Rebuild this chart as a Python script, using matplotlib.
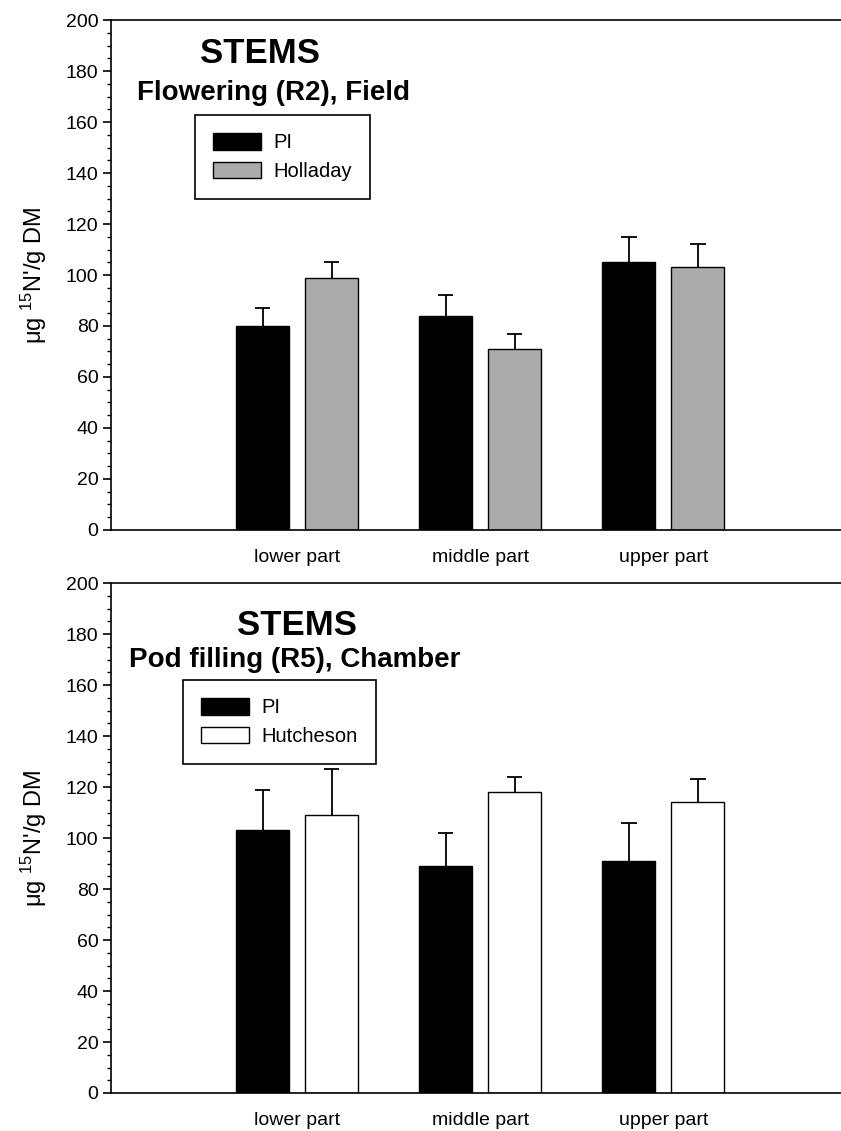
import matplotlib
matplotlib.use("Agg")
import matplotlib.pyplot as plt
import numpy as np
from matplotlib.ticker import MultipleLocator

plt.rcParams['font.family'] = ['Liberation Sans', 'DejaVu Sans']
plt.rcParams['mathtext.fontset'] = 'custom'
plt.rcParams['mathtext.rm'] = 'Liberation Sans'
plt.rcParams['mathtext.it'] = 'Liberation Sans:italic'

categories = ["lower part", "middle part", "upper part"]

# Top panel: Flowering (R2), Field
top_pi = [80, 84, 105]
top_pi_err = [7, 8, 10]
top_hol = [99, 71, 103]
top_hol_err = [6, 6, 9]

# Bottom panel: Pod filling (R5), Chamber
bot_pi = [103, 89, 91]
bot_pi_err = [16, 13, 15]
bot_hut = [109, 118, 114]
bot_hut_err = [18, 6, 9]

yticks = [0, 20, 40, 60, 80, 100, 120, 140, 160, 180, 200]

fig = plt.figure(figsize=(8.41, 11.31), dpi=100)

def err_up(ax, xs, vals, errs, capw=0.042):
    vals = np.asarray(vals, float)
    tops = vals + np.asarray(errs, float)
    ax.vlines(xs, vals, tops, colors='black', linewidth=1.3, zorder=1)
    ax.hlines(tops, xs - capw, xs + capw, colors='black', linewidth=1.3, zorder=1)

def panel(rect, pi, pi_err, other, other_err, other_name, other_color, subtitle,
          sub_x, sub_y, stems_x, stems_y, leg_anchor):
    ax = fig.add_axes(rect)
    x = np.arange(len(categories))
    off = 0.1885
    w = 0.29
    ax.bar(x - off, pi, w, color='black', edgecolor='black', linewidth=1, label='PI', zorder=2)
    ax.bar(x + off, other, w, color=other_color, edgecolor='black', linewidth=1, label=other_name, zorder=2)
    err_up(ax, x - off, pi, pi_err)
    err_up(ax, x + off, other, other_err)
    ax.set_xlim(-1.016, 2.97)
    ax.set_ylim(0, 200)
    ax.set_yticks(yticks)
    ax.set_yticklabels([str(t) for t in yticks], fontsize=14)
    ax.yaxis.set_minor_locator(MultipleLocator(5))
    ax.tick_params(axis='y', which='major', direction='out', length=6, width=1.2, pad=3)
    ax.tick_params(axis='y', which='minor', direction='out', length=3, width=1)
    ax.set_xticks(x)
    ax.set_xticklabels(categories, fontsize=14)
    ax.tick_params(axis='x', length=0, pad=14)
    ax.spines['right'].set_visible(False)
    for s in ['left', 'top', 'bottom']:
        ax.spines[s].set_linewidth(1.2)
    ax.set_ylabel("μg $^{15}$N'/g DM", fontsize=17, labelpad=12)
    ax.text(stems_x, stems_y, "STEMS", transform=ax.transAxes, ha='center', va='baseline',
            fontsize=25, fontweight='bold')
    ax.text(sub_x, sub_y, subtitle, transform=ax.transAxes, ha='center', va='baseline',
            fontsize=20, fontweight='bold')
    leg = ax.legend(loc='upper left', bbox_to_anchor=leg_anchor, fontsize=14.5, frameon=True,
                    fancybox=False, edgecolor='black', framealpha=1, handlelength=2.4,
                    handleheight=0.9, borderpad=0.9, labelspacing=0.45, handletextpad=0.6,
                    borderaxespad=0)
    leg.get_frame().set_linewidth(1.2)
    return ax

panel([0.132, 0.5314, 0.868, 0.4509], top_pi, top_pi_err, top_hol, top_hol_err,
      'Holladay', '#ababab', 'Flowering (R2), Field', 0.222, 0.843, 0.204, 0.9157, (0.115, 0.8137))
panel([0.132, 0.0336, 0.868, 0.4509], bot_pi, bot_pi_err, bot_hut, bot_hut_err,
      'Hutcheson', 'white', 'Pod filling (R5), Chamber', 0.252, 0.835, 0.255, 0.898, (0.0986, 0.8098))

fig.savefig('out.png', dpi=100)
